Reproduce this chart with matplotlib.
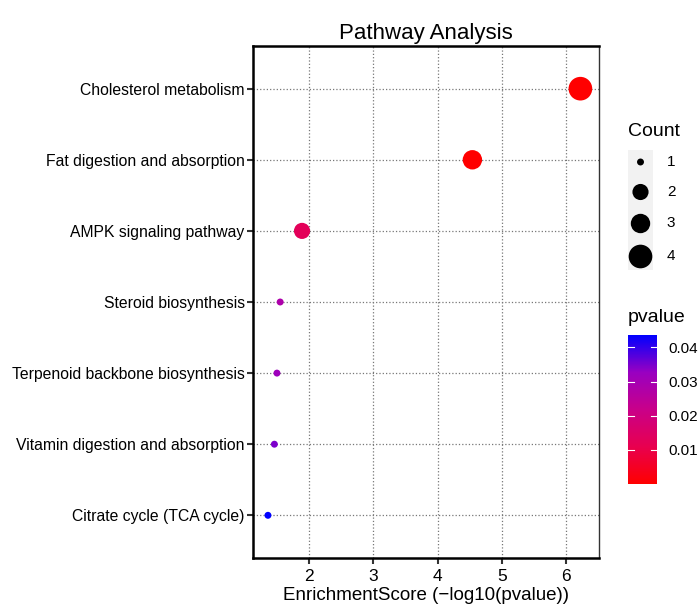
import matplotlib.pyplot as plt
import matplotlib.colors as mcolors
import numpy as np

plt.rcParams['font.family'] = ['Liberation Sans', 'DejaVu Sans']

# Data (top to bottom)
pathways = ["Cholesterol metabolism", "Fat digestion and absorption",
            "AMPK signaling pathway", "Steroid biosynthesis",
            "Terpenoid backbone biosynthesis", "Vitamin digestion and absorption",
            "Citrate cycle (TCA cycle)"]
enrichment = [6.22, 4.54, 1.89, 1.55, 1.50, 1.46, 1.36]
counts = [4, 3, 2, 1, 1, 1, 1]
pvalues = [10 ** -e for e in enrichment]

# ggplot-like red -> blue gradient (Lab interpolation approx)
cmap = mcolors.LinearSegmentedColormap.from_list(
    "rb", ["#FF0000", "#E8004F", "#C90089", "#9900C1", "#0000FF"])
norm = mcolors.Normalize(vmin=min(pvalues), vmax=max(pvalues))

# marker area (pt^2) for each count
marker_area = {1: 25, 2: 135, 3: 195, 4: 290}

fig = plt.figure(figsize=(6.99, 6.04), dpi=100)
ax = fig.add_axes([0.362, 0.0762, 0.495, 0.8476])

ypos = np.arange(len(pathways))[::-1]
ax.scatter(enrichment, ypos, s=[marker_area[c] for c in counts],
           c=pvalues, cmap=cmap, norm=norm, zorder=3, linewidths=0)

ax.set_xlim(1.128, 6.51)
ax.set_ylim(-0.6, len(pathways) - 0.4)
ax.set_xticks([2, 3, 4, 5, 6])
ax.set_yticks(ypos)
ax.set_yticklabels(pathways, fontsize=11.3)
ax.tick_params(axis='x', labelsize=12.5, length=4, width=1.5, color='#333333', pad=4)
ax.tick_params(axis='y', length=4, width=1.5, color='#333333', pad=2)
ax.grid(True, linestyle=':', color='#777777', linewidth=0.9)
ax.set_axisbelow(True)

for side in ['left', 'bottom', 'top']:
    ax.spines[side].set_linewidth(1.8)
    ax.spines[side].set_color('black')
ax.spines['right'].set_linewidth(1.0)
ax.spines['right'].set_color('#333333')

ax.set_xlabel("EnrichmentScore (\u2212log10(pvalue))", fontsize=13.5, va='center')
ax.xaxis.set_label_coords(0.5, -0.073)
ax.set_title("Pathway Analysis", fontsize=16, pad=5)

# Count legend
fig.text(628 / 699, 1 - 132 / 604, "Count", fontsize=14, va='center', ha='left')
lax = fig.add_axes([628 / 699, 1 - 270 / 604, 25 / 699, 120 / 604])
lax.set_facecolor('#F2F2F2')
leg_counts = [1, 2, 3, 4]
leg_y = [3.6, 2.6, 1.55, 0.45]
lax.scatter([0.5] * 4, leg_y, s=[marker_area[c] for c in leg_counts], color='black', linewidths=0)
lax.set_xlim(0, 1)
lax.set_ylim(0, 4)
lax.set_xticks([])
lax.set_yticks([])
for sp in lax.spines.values():
    sp.set_visible(False)
for c, yy in zip(leg_counts, leg_y):
    lax.text(1.55, yy, str(c), fontsize=11, va='center', ha='left', transform=lax.transData)

# pvalue colorbar
fig.text(628 / 699, 1 - 317 / 604, "pvalue", fontsize=14, va='center', ha='left')
cax = fig.add_axes([628 / 699, 1 - 484 / 604, 29 / 699, 149 / 604])
cb = fig.colorbar(plt.cm.ScalarMappable(norm=norm, cmap=cmap), cax=cax)
cb.set_ticks([0.01, 0.02, 0.03, 0.04])
cb.set_ticklabels(["0.01", "0.02", "0.03", "0.04"])
cb.outline.set_visible(False)
cax.tick_params(labelsize=11, length=0, pad=8)
for t in [0.01, 0.02, 0.03, 0.04]:
    cax.plot([0, 0.2], [t, t], color='white', linewidth=0.8)
    cax.plot([0.8, 1], [t, t], color='white', linewidth=0.8)

fig.savefig("out.png", dpi=100)
